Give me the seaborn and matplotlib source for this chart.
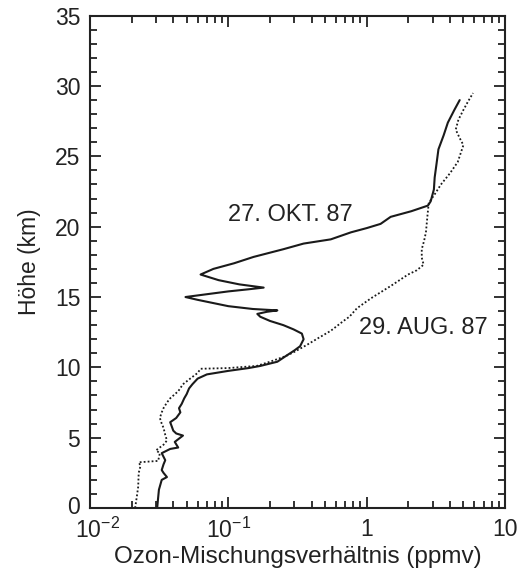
import matplotlib
matplotlib.use("Agg")
import matplotlib.pyplot as plt
import matplotlib.ticker as mticker
import matplotlib.transforms as mtransforms
import pandas as pd
import seaborn as sns

sns.set_style("ticks")
plt.rcParams["font.family"] = ["Liberation Sans", "DejaVu Sans"]
plt.rcParams["mathtext.fontset"] = "custom"
plt.rcParams["mathtext.rm"] = "Liberation Sans"
plt.rcParams["mathtext.default"] = "rm"

# 27. Okt. 87 (durchgezogen)
okt_ozon = [0.0306, 0.031, 0.0315, 0.033, 0.036, 0.034, 0.033, 0.034, 0.035, 0.033,
            0.038, 0.0434, 0.041, 0.047, 0.042, 0.040, 0.039, 0.038, 0.042, 0.045,
            0.044, 0.046, 0.048, 0.050, 0.052, 0.055, 0.060, 0.070, 0.10, 0.14,
            0.17, 0.226, 0.26, 0.30, 0.33, 0.35, 0.34, 0.296, 0.25, 0.20,
            0.17, 0.162, 0.19, 0.226, 0.15, 0.10, 0.06, 0.049, 0.07, 0.10,
            0.14, 0.18, 0.12, 0.085, 0.063, 0.078, 0.11, 0.152, 0.25, 0.35,
            0.55, 0.77, 1.0, 1.26, 1.49, 2.1, 2.77, 2.9, 3.06, 3.1,
            3.2, 3.3, 3.6, 3.86, 4.3, 4.7]
okt_hoehe = [0.0, 0.6, 1.3, 2.0, 2.2, 2.5, 2.7, 3.1, 3.4, 3.9,
             4.2, 4.3, 4.7, 5.15, 5.3, 5.5, 5.8, 6.1, 6.4, 6.8,
             7.1, 7.4, 7.8, 8.1, 8.5, 8.8, 9.2, 9.5, 9.75, 9.95,
             10.1, 10.4, 10.8, 11.2, 11.5, 12.0, 12.4, 12.7, 13.0, 13.3,
             13.6, 13.8, 13.95, 14.05, 14.15, 14.35, 14.8, 15.0, 15.2, 15.4,
             15.55, 15.67, 15.9, 16.2, 16.6, 17.0, 17.4, 17.85, 18.4, 18.8,
             19.1, 19.6, 19.9, 20.2, 20.7, 21.1, 21.5, 21.8, 22.65, 23.5,
             24.5, 25.5, 26.5, 27.4, 28.3, 29.0]

# 29. Aug. 87 (punktiert)
aug_ozon = [0.0212, 0.0218, 0.0223, 0.0225, 0.0232, 0.0225, 0.0311, 0.032, 0.030, 0.034,
            0.036, 0.035, 0.034, 0.033, 0.032, 0.033, 0.034, 0.036, 0.038, 0.0434,
            0.047, 0.053, 0.060, 0.063, 0.10, 0.16, 0.20, 0.26, 0.30, 0.37,
            0.45, 0.55, 0.68, 0.75, 0.85, 1.07, 1.5, 1.99, 2.3, 2.58,
            2.5, 2.5, 2.6, 2.68, 2.75, 2.81, 3.1, 3.44, 4.0, 4.55,
            5.0, 4.7, 4.4, 4.6, 5.0, 5.4, 5.87]
aug_hoehe = [0.0, 0.8, 1.5, 2.5, 3.0, 3.25, 3.35, 3.9, 4.1, 4.5,
             4.8, 5.2, 5.7, 6.0, 6.4, 6.8, 7.1, 7.5, 7.8, 8.3,
             8.8, 9.2, 9.6, 9.9, 9.95, 10.1, 10.4, 10.8, 11.1, 11.6,
             12.1, 12.6, 13.3, 13.6, 14.2, 14.9, 15.8, 16.6, 16.9, 17.3,
             17.8, 18.4, 19.0, 19.6, 20.8, 21.7, 22.3, 23.0, 23.8, 24.6,
             25.8, 26.3, 26.9, 27.6, 28.3, 28.9, 29.5]

x_ticks = [0.01, 0.1, 1, 10]
x_labels = ["$10^{-2}$", "$10^{-1}$", "1", "10"]
y_ticks = [0, 5, 10, 15, 20, 25, 30, 35]

okt = pd.DataFrame({"ozon": okt_ozon, "hoehe": okt_hoehe})
aug = pd.DataFrame({"ozon": aug_ozon, "hoehe": aug_hoehe})

fig = plt.figure(figsize=(5.18, 5.71), dpi=100)
ax = fig.add_axes([0.1737, 0.1103, 0.8013, 0.8622])

sns.lineplot(data=okt, x="ozon", y="hoehe", sort=False, estimator=None,
             color="#1a1a1a", linewidth=1.5, ax=ax)
sns.lineplot(data=aug, x="ozon", y="hoehe", sort=False, estimator=None,
             color="#1a1a1a", linewidth=1.3, linestyle=(0, (1, 1.2)), ax=ax)

ax.set_xscale("log")
ax.set_xlim(0.01, 10)
ax.set_ylim(0, 35)
ax.xaxis.set_major_locator(mticker.FixedLocator(x_ticks))
ax.xaxis.set_major_formatter(mticker.FixedFormatter(x_labels))
ax.xaxis.set_minor_locator(mticker.LogLocator(base=10, subs=range(2, 10)))
ax.xaxis.set_minor_formatter(mticker.NullFormatter())
ax.set_yticks(y_ticks)
ax.yaxis.set_minor_locator(mticker.MultipleLocator(1))

ax.tick_params(which="both", direction="in", top=True, right=True,
               labelsize=16.5, colors="#222222", width=1.3)
ax.tick_params(which="major", length=8)
ax.tick_params(which="minor", length=5)
ax.tick_params(axis="x", which="major", pad=7)
ax.tick_params(axis="y", which="major", pad=7)
for s in ax.spines.values():
    s.set_linewidth(1.5)
    s.set_color("#222222")

# "10^-2" sits a little right of its tick in the original, clear of the "0"
first = ax.get_xticklabels()[0]
first.set_transform(first.get_transform()
                    + mtransforms.ScaledTranslation(8 / 100, 0, fig.dpi_scale_trans))
bottom = ax.get_yticklabels()[0]
bottom.set_transform(bottom.get_transform()
                     + mtransforms.ScaledTranslation(0, 3 / 100, fig.dpi_scale_trans))

ax.set_xlabel("Ozon-Mischungsverhältnis (ppmv)", fontsize=17.5, color="#222222", labelpad=2)
ax.set_ylabel("Höhe (km)", fontsize=16.5, color="#222222", labelpad=10)

ax.text(0.28, 20.8, "27. OKT. 87", fontsize=17, color="#222222", ha="center", va="center")
ax.text(2.55, 12.8, "29. AUG. 87", fontsize=17, color="#222222", ha="center", va="center")

plt.savefig("out.png", dpi=100)
plt.close()
